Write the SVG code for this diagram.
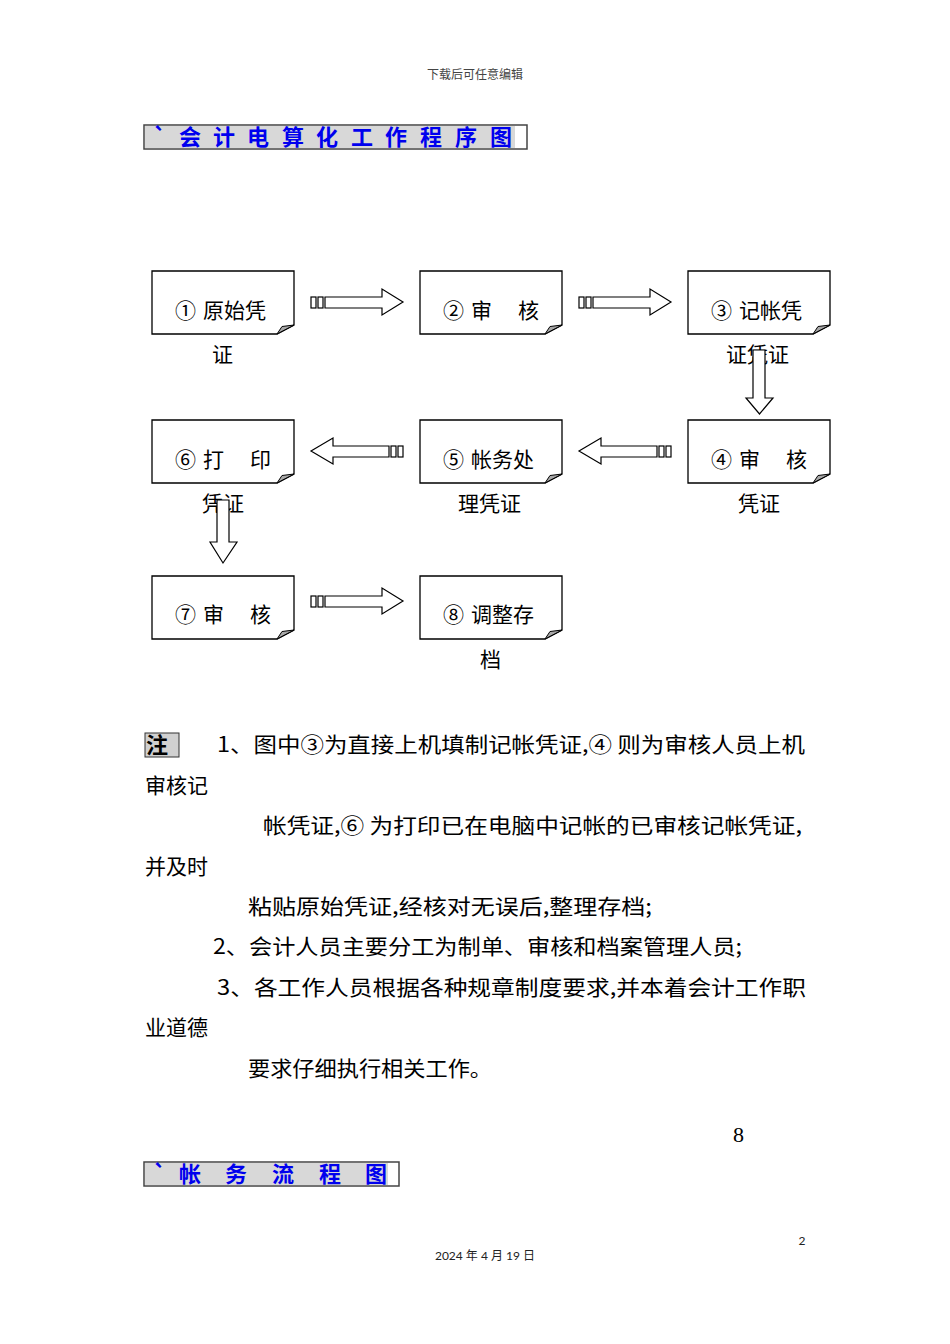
<svg xmlns="http://www.w3.org/2000/svg" width="950" height="1344" viewBox="0 0 950 1344">
<defs>
<style>
.t{font-family:"Noto Sans CJK SC","Liberation Serif",serif;fill:#000;}
.lbl{font-size:21px;}
.note{font-size:21px;}
.ttl{font-family:"Noto Sans CJK SC",sans-serif;font-size:22px;font-weight:bold;fill:#0000ee;text-anchor:middle;}
.box{fill:#fff;stroke:#000;stroke-width:1.3;}
.fold{fill:#a8a8a8;stroke:#000;stroke-width:1;stroke-linejoin:round;}
.arr{fill:#fff;stroke:#000;stroke-width:1.2;}
.small{font-family:"Noto Sans CJK SC",sans-serif;font-size:12px;fill:#444;}
</style>
<g id="pageShape">
<path d="M0,0 H142 V54 L125,63 H0 Z"/>
</g>
<g id="foldShape">
<path d="M125,63 L130,55.5 L142,54 Z"/>
</g>
</defs>
<rect width="950" height="1344" fill="#fff"/>
<text class="small" x="475" y="79" text-anchor="middle">下载后可任意编辑</text>

<g id="title1">
<rect x="144" y="125" width="383" height="24" fill="#fff" stroke="#444" stroke-width="1.5"/>
<rect x="145" y="126" width="370" height="22" fill="#d8d8d8"/>
<text class="ttl" y="145"><tspan x="160">`</tspan><tspan x="190">会</tspan><tspan x="224">计</tspan><tspan x="258">电</tspan><tspan x="293">算</tspan><tspan x="327">化</tspan><tspan x="362">工</tspan><tspan x="396">作</tspan><tspan x="431">程</tspan><tspan x="466">序</tspan><tspan x="501">图</tspan></text>
</g>

<g id="n1">
<use href="#pageShape" transform="translate(152,271)" class="box"/>
<use href="#foldShape" transform="translate(152,271)" class="fold"/>
<text class="t lbl" y="318"><tspan x="175">①</tspan><tspan x="203">原始凭</tspan></text>
<text class="t lbl" x="212" y="362">证</text>
</g>
<g id="n2">
<use href="#pageShape" transform="translate(420,271)" class="box"/>
<use href="#foldShape" transform="translate(420,271)" class="fold"/>
<text class="t lbl" y="318"><tspan x="443">②</tspan><tspan x="471">审</tspan><tspan x="518">核</tspan></text>
</g>
<g id="n3">
<use href="#pageShape" transform="translate(688,271)" class="box"/>
<use href="#foldShape" transform="translate(688,271)" class="fold"/>
<text class="t lbl" y="318"><tspan x="711">③</tspan><tspan x="739">记帐凭</tspan></text>
<text class="t lbl" x="726" y="362">证凭证</text>
</g>
<g id="n4">
<use href="#pageShape" transform="translate(688,420)" class="box"/>
<use href="#foldShape" transform="translate(688,420)" class="fold"/>
<text class="t lbl" y="467"><tspan x="711">④</tspan><tspan x="739">审</tspan><tspan x="786">核</tspan></text>
<text class="t lbl" x="738" y="511">凭证</text>
</g>
<g id="n5">
<use href="#pageShape" transform="translate(420,420)" class="box"/>
<use href="#foldShape" transform="translate(420,420)" class="fold"/>
<text class="t lbl" y="467"><tspan x="443">⑤</tspan><tspan x="471">帐务处</tspan></text>
<text class="t lbl" x="458" y="511">理凭证</text>
</g>
<g id="n6">
<use href="#pageShape" transform="translate(152,420)" class="box"/>
<use href="#foldShape" transform="translate(152,420)" class="fold"/>
<text class="t lbl" y="467"><tspan x="175">⑥</tspan><tspan x="203">打</tspan><tspan x="250">印</tspan></text>
<text class="t lbl" x="202" y="511">凭证</text>
</g>
<g id="n7">
<use href="#pageShape" transform="translate(152,576)" class="box"/>
<use href="#foldShape" transform="translate(152,576)" class="fold"/>
<text class="t lbl" y="622"><tspan x="175">⑦</tspan><tspan x="203">审</tspan><tspan x="250">核</tspan></text>
</g>
<g id="n8">
<use href="#pageShape" transform="translate(420,576)" class="box"/>
<use href="#foldShape" transform="translate(420,576)" class="fold"/>
<text class="t lbl" y="622"><tspan x="443">⑧</tspan><tspan x="471">调整存</tspan></text>
<text class="t lbl" x="480" y="667">档</text>
</g>

<g id="connectors">
<g>
<rect class="arr" x="311" y="297" width="5" height="11"/><rect class="arr" x="318" y="297" width="5" height="11"/>
<path class="arr" d="M325,297 H382 V289 L403,302 L382,315 V308 H325 Z"/>
</g>
<g transform="translate(268,0)">
<rect class="arr" x="311" y="297" width="5" height="11"/><rect class="arr" x="318" y="297" width="5" height="11"/>
<path class="arr" d="M325,297 H382 V289 L403,302 L382,315 V308 H325 Z"/>
</g>
<g transform="translate(0,299)">
<rect class="arr" x="311" y="297" width="5" height="11"/><rect class="arr" x="318" y="297" width="5" height="11"/>
<path class="arr" d="M325,297 H382 V289 L403,302 L382,315 V308 H325 Z"/>
</g>
<g>
<rect class="arr" x="391" y="446" width="5" height="11"/><rect class="arr" x="398" y="446" width="5" height="11"/>
<path class="arr" d="M389,446 H333 V438 L311,451 L333,464 V457 H389 Z"/>
</g>
<g transform="translate(268,0)">
<rect class="arr" x="391" y="446" width="5" height="11"/><rect class="arr" x="398" y="446" width="5" height="11"/>
<path class="arr" d="M389,446 H333 V438 L311,451 L333,464 V457 H389 Z"/>
</g>
<path class="arr" d="M753,350 H765 V398 H773 L759.5,414 L746,398 H753 Z"/>
<path class="arr" d="M217,500 H229 V542 H237 L223,563 L210,542 H217 Z"/>
</g>

<g id="notes">
<rect x="145" y="733" width="34" height="24" fill="#d0d0d0" stroke="#333" stroke-width="1"/>
<text class="t" x="146" y="753" font-size="22" font-weight="bold">注</text>
<text class="t note" x="217" y="752" textLength="588" lengthAdjust="spacingAndGlyphs">1、图中③为直接上机填制记帐凭证,④ 则为审核人员上机</text>
<text class="t note" x="145" y="793">审核记</text>
<text class="t note" x="263" y="833" textLength="539" lengthAdjust="spacingAndGlyphs">帐凭证,⑥ 为打印已在电脑中记帐的已审核记帐凭证,</text>
<text class="t note" x="145" y="874">并及时</text>
<text class="t note" x="248" y="914" textLength="404" lengthAdjust="spacingAndGlyphs">粘贴原始凭证,经核对无误后,整理存档;</text>
<text class="t note" x="213" y="954" textLength="529" lengthAdjust="spacingAndGlyphs">2、会计人员主要分工为制单、审核和档案管理人员;</text>
<text class="t note" x="217" y="995" textLength="589" lengthAdjust="spacingAndGlyphs">3、各工作人员根据各种规章制度要求,并本着会计工作职</text>
<text class="t note" x="145" y="1035">业道德</text>
<text class="t note" x="248" y="1076" textLength="244" lengthAdjust="spacingAndGlyphs">要求仔细执行相关工作。</text>
<text x="733" y="1142" font-family="Liberation Serif,serif" font-size="22">8</text>
</g>

<g id="title2">
<rect x="144" y="1162" width="255" height="24" fill="#fff" stroke="#444" stroke-width="1.5"/>
<rect x="145" y="1163" width="243" height="22" fill="#d8d8d8"/>
<text class="ttl" y="1182"><tspan x="160">`</tspan><tspan x="190">帐</tspan><tspan x="236">务</tspan><tspan x="283">流</tspan><tspan x="330">程</tspan><tspan x="376">图</tspan></text>
</g>

<text x="802" y="1245" font-family="Lato,sans-serif" font-size="12" fill="#222" text-anchor="middle">2</text>
<text x="485" y="1260" font-family="Lato,'Noto Sans CJK SC',sans-serif" font-size="12" fill="#222" text-anchor="middle">2024 年 4 月 19 日</text>
</svg>
